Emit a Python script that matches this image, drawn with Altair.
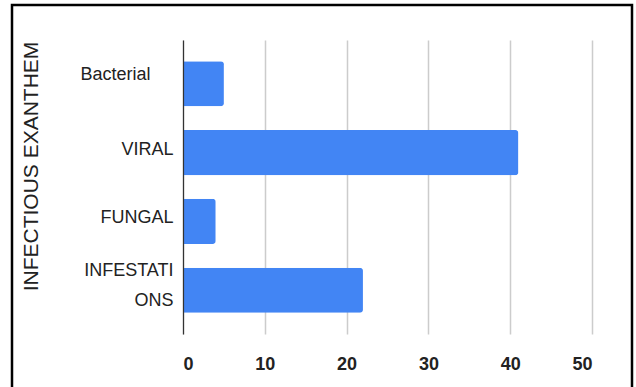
import altair as alt
import pandas as pd

# Infectious exanthem cases by type
categories = ["Bacterial", "VIRAL", "FUNGAL", "INFESTATIONS"]
counts = [5, 41, 4, 22]
x_ticks = [0, 10, 20, 30, 40, 50]

df = pd.DataFrame({"type": categories, "count": counts})

# Long category name wraps onto two lines
label_expr = "datum.value == 'INFESTATIONS' ? ['INFESTATI', 'ONS'] : datum.value"

bars = alt.Chart(df).mark_bar(color="#4285F4", cornerRadiusEnd=3).encode(
    x=alt.X(
        "count:Q",
        scale=alt.Scale(domain=[0, 50], nice=False),
        axis=alt.Axis(
            values=x_ticks,
            title=None,
            domain=False,
            ticks=False,
            grid=True,
            gridColor="#cccccc",
            gridWidth=1.5,
            labelFont="Liberation Sans",
            labelFontSize=18,
            labelFontWeight="bold",
            labelColor="#222222",
            labelPadding=21,
        ),
    ),
    y=alt.Y(
        "type:N",
        sort=None,
        scale=alt.Scale(paddingInner=0.345, paddingOuter=0.31),
        axis=alt.Axis(
            title="INFECTIOUS EXANTHEM",
            titleFont="Liberation Sans",
            titleFontSize=21,
            titleFontWeight="normal",
            titleColor="#222222",
            titleAngle=-90,
            titleAlign="center",
            titleBaseline="alphabetic",
            titleX=-146,
            titleY=126,
            labelExpr=label_expr,
            labelFont="Liberation Sans",
            labelFontSize=18,
            labelColor="#222222",
            labelLineHeight=30,
            labelPadding={
                "condition": {"test": "datum.value == 'Bacterial'", "value": 33},
                "value": 10,
            },
            labelOffset={
                "condition": [
                    {"test": "datum.value == 'INFESTATIONS'", "value": -19},
                    {"test": "datum.value == 'Bacterial'", "value": -9},
                ],
                "value": -3,
            },
            ticks=False,
            domain=True,
            domainColor="#333333",
            domainWidth=1.2,
            grid=False,
            zindex=1,
        ),
    ),
)

# Frame around the whole figure
frame = alt.Chart(alt.Data(values=[{}])).mark_rect(
    fill=None, stroke="#000000", strokeWidth=2.5
).encode(
    x=alt.value(-171),
    x2=alt.value(449),
    y=alt.value(-35),
    y2=alt.value(400),
)

chart = (
    alt.layer(bars, frame)
    .properties(
        width=409,
        height=294,
        padding={"left": 183, "top": 40, "right": 44, "bottom": 53},
        autosize=alt.AutoSizeParams(type="none"),
        background="white",
    )
    .configure_view(stroke=None)
)

chart.save("out.html", embed_options={"renderer": "svg", "actions": False})
